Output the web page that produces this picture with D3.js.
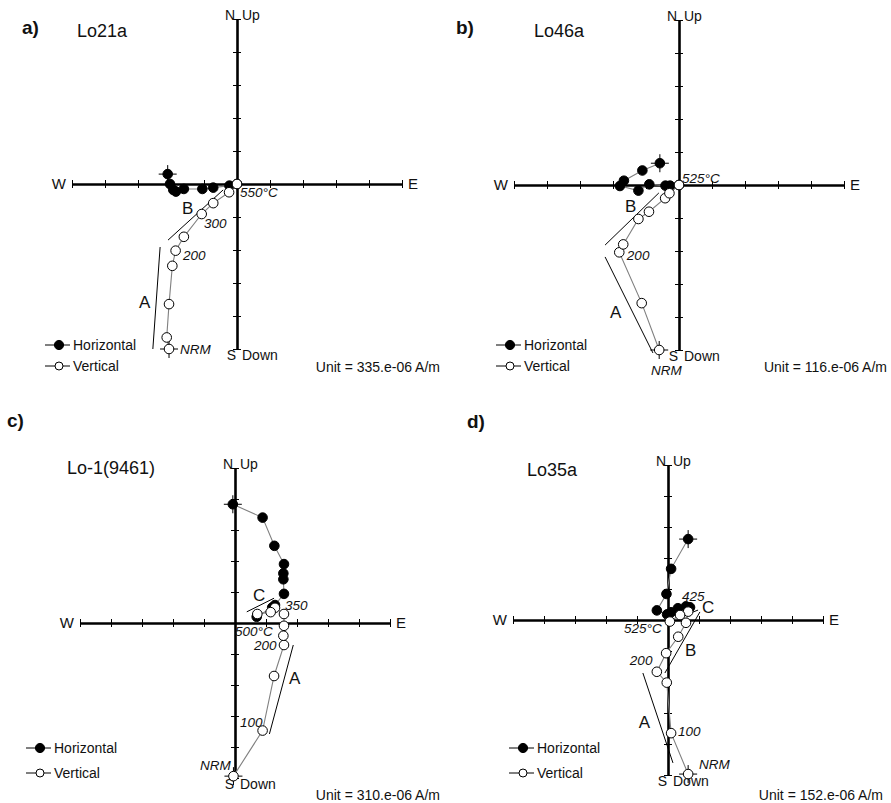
<!DOCTYPE html>
<html><head><meta charset="utf-8">
<script src="https://cdn.jsdelivr.net/npm/d3@7"></script>
<style>
body{margin:0;background:#fff}
svg{display:block}
text{font-family:"Liberation Sans",Arial,Helvetica,sans-serif;fill:#111}
</style>
</head><body>
<svg id="chart" width="891" height="803"></svg>
<script>
// ---------------- DATA (axis units = Unit per tick) ----------------
const panelLetters = ["a)", "b)", "c)", "d)"];
const sampleNames = ["Lo21a", "Lo46a", "Lo-1(9461)", "Lo35a"];
const unitTexts = ["Unit = 335.e-06 A/m", "Unit = 116.e-06 A/m", "Unit = 310.e-06 A/m", "Unit = 152.e-06 A/m"];
const tickValues = [-5, -4, -3, -2, -1, 0, 1, 2, 3, 4, 5];
const legendLabels = ["Horizontal", "Vertical"];
const axisNames = ["W", "E", "N", "Up", "S", "Down"];

// Panel a) Lo21a
const horizA = [[-2.10, 0.30], [-2.03, 0.00], [-1.93, -0.18], [-1.85, -0.23], [-1.61, -0.15], [-1.05, -0.15], [-0.72, -0.11], [-0.23, -0.05], [0, 0]];
const vertA = [[-2.06, -5.00], [-2.13, -4.65], [-2.06, -3.64], [-1.96, -2.48], [-1.86, -2.02], [-1.61, -1.60], [-1.07, -0.91], [-0.72, -0.58], [-0.24, -0.25], [0, 0]];
const stepLabelsA = [["550°C", 0.09, -0.39], ["300", -1.00, -1.33], ["200", -1.64, -2.30], ["NRM", -1.73, -5.15]];
const compLabelsA = [["B", -1.67, -0.91], ["A", -2.97, -3.76]];
const fitLinesA = [[[-2.09, -1.70], [-0.42, -0.18]], [[-2.33, -1.91], [-2.55, -5.00]]];

// Panel b) Lo46a
const horizB = [[-0.58, 0.66], [-1.11, 0.44], [-1.67, 0.13], [-1.79, -0.03], [-1.23, -0.17], [-0.90, 0.02], [-0.41, -0.02], [-0.27, -0.02], [0, 0]];
const vertB = [[-0.60, -5.00], [-1.13, -3.58], [-1.81, -2.04], [-1.69, -1.80], [-1.23, -1.03], [-0.91, -0.81], [-0.42, -0.40], [-0.29, -0.25], [0, 0]];
const stepLabelsB = [["525°C", 0.09, 0.06], ["200", -1.58, -2.27], ["NRM", -0.85, -5.76]];
const compLabelsB = [["B", -1.64, -0.82], ["A", -2.09, -4.03]];
const fitLinesB = [[[-2.24, -1.82], [-0.61, -0.24]], [[-2.24, -2.18], [-0.79, -5.09]]];

// Panel c) Lo-1(9461)
const horizC = [[-0.07, 3.83], [0.89, 3.40], [1.27, 2.49], [1.58, 1.90], [1.56, 1.60], [1.56, 1.41], [1.58, 0.94], [1.29, 0.58], [1.20, 0.50], [0.70, 0.20]];
const vertC = [[-0.05, -4.94], [0.89, -3.47], [1.26, -1.71], [1.58, -0.71], [1.56, -0.41], [1.58, -0.09], [1.58, 0.29], [1.29, 0.49], [1.15, 0.35], [0.72, 0.29]];
const stepLabelsC = [["350", 1.61, 0.42], ["500°C", 0.00, -0.42], ["200", 0.61, -0.87], ["100", 0.16, -3.35], ["NRM", -1.13, -4.74]];
const compLabelsC = [["C", 0.58, 0.71], ["A", 1.74, -1.97]];
const fitLinesC = [[[0.38, 0.36], [1.26, 0.80]], [[1.11, -3.58], [1.88, -0.71]]];

// Panel d) Lo35a
const horizD = [[0.65, 2.61], [0.10, 1.65], [-0.05, 0.84], [-0.36, 0.31], [-0.03, 0.18], [0.10, 0.25], [0.32, 0.38], [0.58, 0.44], [0.71, 0.41]];
const vertD = [[0.65, -4.97], [0.10, -3.65], [-0.04, -2.02], [-0.36, -1.67], [-0.06, -1.07], [0.33, -0.54], [0.58, -0.09], [0.65, 0.27], [0.39, 0.16], [0.06, -0.05]];
const stepLabelsD = [["425", 0.45, 0.61], ["525°C", -1.42, -0.42], ["200", -1.23, -1.45], ["100", 0.32, -3.74], ["NRM", 1.00, -4.80]];
const compLabelsD = [["C", 1.10, 0.23], ["B", 0.55, -1.16], ["A", -0.94, -3.48]];
const fitLinesD = [[[0.29, 0.06], [0.97, 0.32]], [[-0.10, -1.71], [1.03, 0.26]], [[-0.81, -1.71], [0.16, -4.61]]];

// ---------------- LAYOUT ----------------
const geom = [
  {cx: 237, cy: 184, s: 33, letter: [22, 34], name: [77, 37], legend: [59, 345], gap: 21, unit: [440, 372]},
  {cx: 679, cy: 185, s: 33, letter: [456, 34], name: [534, 37], legend: [510, 345], gap: 21, unit: [887, 372]},
  {cx: 235, cy: 623, s: 31, letter: [7, 427], name: [67, 474], legend: [40, 748], gap: 25, unit: [440, 800]},
  {cx: 668, cy: 620, s: 31, letter: [467, 428], name: [527, 476], legend: [523, 748], gap: 25, unit: [883, 800]}
];

const panels = [
  [horizA, vertA, stepLabelsA, compLabelsA, fitLinesA],
  [horizB, vertB, stepLabelsB, compLabelsB, fitLinesB],
  [horizC, vertC, stepLabelsC, compLabelsC, fitLinesC],
  [horizD, vertD, stepLabelsD, compLabelsD, fitLinesD]
];

const svg = d3.select("#chart");
const R = 4.8;

panels.forEach((p, i) => {
  const [horiz, vert, steps, comps, fits] = p;
  const G = geom[i];
  const g = svg.append("g");
  const x = d3.scaleLinear().domain([-5, 5]).range([G.cx - 5 * G.s, G.cx + 5 * G.s]);
  const y = d3.scaleLinear().domain([-5, 5]).range([G.cy + 5 * G.s, G.cy - 5 * G.s]);

  // axes
  const gx = g.append("g").attr("transform", `translate(0,${y(0)})`)
    .call(d3.axisBottom(x).tickValues(tickValues).tickSize(4).tickSizeOuter(0).tickFormat(""));
  gx.select(".domain").attr("stroke", "#000").attr("stroke-width", 2.6);
  gx.selectAll(".tick line").attr("y1", -4).attr("y2", 4).attr("stroke", "#000").attr("stroke-width", 1);

  const gy = g.append("g").attr("transform", `translate(${x(0)},0)`)
    .call(d3.axisLeft(y).tickValues(tickValues).tickSize(4).tickSizeOuter(0).tickFormat(""));
  gy.select(".domain").attr("stroke", "#000").attr("stroke-width", 2.6);
  gy.selectAll(".tick line").attr("x1", 4).attr("x2", -4).attr("stroke", "#000").attr("stroke-width", 1);

  // axis names
  const x0 = x(0), y0 = y(0);
  g.append("text").attr("x", x(-5) - 6).attr("y", y0 + 5).attr("text-anchor", "end").attr("font-size", 15).text(axisNames[0]);
  g.append("text").attr("x", x(5) + 6).attr("y", y0 + 5).attr("font-size", 15).text(axisNames[1]);
  g.append("text").attr("x", x0 - 2).attr("y", y(5) + 1).attr("text-anchor", "end").attr("font-size", 14).text(axisNames[2]);
  g.append("text").attr("x", x0 + 5).attr("y", y(5) + 1).attr("font-size", 14).text(axisNames[3]);
  g.append("text").attr("x", x0 - 1).attr("y", y(-5) + 11).attr("text-anchor", "end").attr("font-size", 14).text(axisNames[4]);
  g.append("text").attr("x", x0 + 5).attr("y", y(-5) + 11).attr("font-size", 14).text(axisNames[5]);

  // fit lines
  g.selectAll(".fit").data(fits).enter().append("line")
    .attr("x1", d => x(d[0][0])).attr("y1", d => y(d[0][1]))
    .attr("x2", d => x(d[1][0])).attr("y2", d => y(d[1][1]))
    .attr("stroke", "#000").attr("stroke-width", 1);

  // connecting lines
  const line = d3.line().x(d => x(d[0])).y(d => y(d[1]));
  g.append("path").attr("d", line(horiz)).attr("fill", "none").attr("stroke", "#808080").attr("stroke-width", 1.1);
  g.append("path").attr("d", line(vert)).attr("fill", "none").attr("stroke", "#808080").attr("stroke-width", 1.1);

  // NRM crosses
  [horiz[0], vert[0]].forEach(d => {
    g.append("line").attr("x1", x(d[0]) - 9).attr("x2", x(d[0]) + 9).attr("y1", y(d[1])).attr("y2", y(d[1])).attr("stroke", "#000").attr("stroke-width", 1);
    g.append("line").attr("x1", x(d[0])).attr("x2", x(d[0])).attr("y1", y(d[1]) - 9).attr("y2", y(d[1]) + 9).attr("stroke", "#000").attr("stroke-width", 1);
  });

  // points
  g.selectAll(".h").data(horiz).enter().append("circle")
    .attr("cx", d => x(d[0])).attr("cy", d => y(d[1])).attr("r", R)
    .attr("fill", "#000").attr("stroke", "#000").attr("stroke-width", 1);
  g.selectAll(".v").data(vert).enter().append("circle")
    .attr("cx", d => x(d[0])).attr("cy", d => y(d[1])).attr("r", R)
    .attr("fill", "#fff").attr("stroke", "#000").attr("stroke-width", 1);

  // step labels
  g.selectAll(".sl").data(steps).enter().append("text")
    .attr("x", d => x(d[1])).attr("y", d => y(d[2]))
    .attr("font-size", 13.5).attr("font-style", "italic").attr("fill", "#222").text(d => d[0]);
  // component labels
  g.selectAll(".cl").data(comps).enter().append("text")
    .attr("x", d => x(d[1])).attr("y", d => y(d[2]))
    .attr("font-size", 17).text(d => d[0]);

  // titles
  g.append("text").attr("x", G.letter[0]).attr("y", G.letter[1]).attr("font-size", 19).attr("font-weight", "bold").text(panelLetters[i]);
  g.append("text").attr("x", G.name[0]).attr("y", G.name[1]).attr("font-size", 18).text(sampleNames[i]);

  // legend
  legendLabels.forEach((lab, k) => {
    const ly = G.legend[1] + k * G.gap;
    const lx = G.legend[0];
    g.append("line").attr("x1", lx - 14).attr("x2", lx + 11).attr("y1", ly).attr("y2", ly).attr("stroke", "#000").attr("stroke-width", 1);
    g.append("circle").attr("cx", lx).attr("cy", ly).attr("r", k === 0 ? 4.6 : 4.0)
      .attr("fill", k === 0 ? "#000" : "#fff").attr("stroke", "#000").attr("stroke-width", 1);
    g.append("text").attr("x", lx + 14).attr("y", ly + 5).attr("font-size", 14).text(lab);
  });

  // unit
  g.append("text").attr("x", G.unit[0]).attr("y", G.unit[1]).attr("text-anchor", "end").attr("font-size", 14).text(unitTexts[i]);
});
</script>
</body></html>
